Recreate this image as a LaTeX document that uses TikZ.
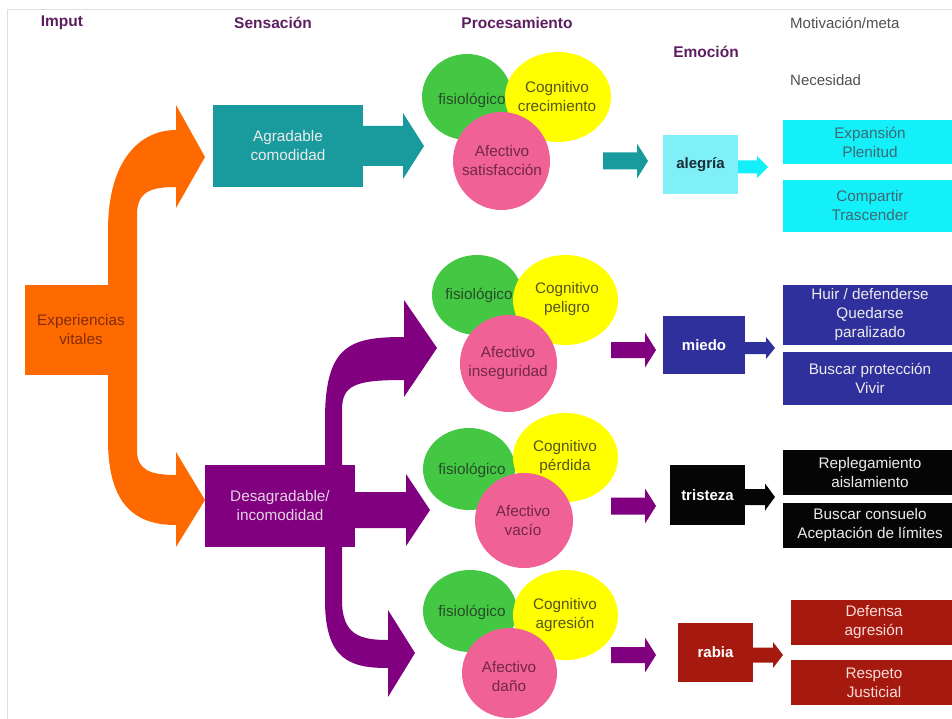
\documentclass[tikz,border=0pt]{standalone}
\usepackage{fontspec}
\setmainfont{Liberation Sans}
\usepackage{tikz}
\usepackage{xcolor}
\definecolor{hdrpurple}{RGB}{92,30,96}
\definecolor{subgray}{RGB}{80,80,80}
\definecolor{framegray}{RGB}{222,222,222}
\definecolor{orng}{RGB}{255,106,0}
\definecolor{exptext}{RGB}{130,45,15}
\definecolor{tealc}{RGB}{25,155,158}
\definecolor{purp}{RGB}{128,0,128}
\definecolor{grn}{RGB}{68,200,68}
\definecolor{yel}{RGB}{255,255,0}
\definecolor{pnk}{RGB}{240,98,150}
\definecolor{alecol}{RGB}{128,240,248}
\definecolor{cyn}{RGB}{20,240,250}
\definecolor{blu}{RGB}{48,48,156}
\definecolor{drk}{RGB}{5,5,5}
\definecolor{dred}{RGB}{165,25,15}
\definecolor{grntext}{RGB}{40,75,40}
\definecolor{yeltext}{RGB}{85,85,30}
\definecolor{pnktext}{RGB}{115,40,65}
\definecolor{cyntext}{RGB}{60,105,115}
\definecolor{aletext}{RGB}{25,45,55}
\definecolor{lighttext}{RGB}{235,235,235}
\definecolor{purptext}{RGB}{230,210,230}
\definecolor{redtext}{RGB}{248,220,215}

% straight block arrow: colour, x start, x head base, x tip, y centre, half shaft, half head
\newcommand{\blockarrow}[7]{%
  \fill[#1] (#2,#5-#6) -- (#3,#5-#6) -- (#3,#5-#7) -- (#4,#5)
    -- (#3,#5+#7) -- (#3,#5+#6) -- (#2,#5+#6) -- cycle;}

\tikzset{
  hdr/.style={font=\fontsize{15.5}{18}\selectfont\bfseries, text=hdrpurple},
  subhdr/.style={font=\fontsize{15}{18}\selectfont, text=subgray, inner sep=0pt, anchor=west},
  txt/.style={font=\fontsize{15.3}{19}\selectfont, align=center, inner sep=0pt},
  sensbox/.style={txt},
  emobox/.style={font=\fontsize{15}{18}\selectfont\bfseries, inner sep=0pt},
  needbox/.style={txt, minimum width=174pt},
}

\begin{document}
\begin{tikzpicture}[x=1pt, y=-1pt]
    \useasboundingbox (0,0) rectangle (952,719);

    % Frame
    \draw[framegray, line width=0.8pt] (7,719) -- (7,9) -- (952,9);

    % Headers
    \node[hdr] (hin) at (62,23) {Imput};
    \node[hdr] (hsen) at (273,23) {Sensación};
    \node[hdr] (hpro) at (517,23) {Procesamiento};
    \node[hdr] (hemo) at (706,52) {Emoción};
    \node[subhdr] (hmot) at (790,23) {Motivación/meta};
    \node[subhdr] (hnec) at (790,80) {Necesidad};

    % Input (orange bent arrows)
    \fill[orng] (176,130) .. controls (140,130) and (108,160) .. (108,230)
        -- (108,440) .. controls (108,510) and (140,525) .. (176,525)
        -- (176,547) -- (205,500) -- (176,452) -- (176,475)
        .. controls (150,475) and (137,470) .. (137,450)
        -- (137,215) .. controls (137,192) and (150,187) .. (176,187)
        -- (176,208) -- (205,157) -- (176,105) -- cycle;
    \node[sensbox, fill=orng, text=exptext, minimum width=112pt, minimum height=90pt] (exp) at (81,330) {Experiencias\\vitales};

    % Sensation
    \node[sensbox, fill=tealc, text=lighttext, minimum width=150pt, minimum height=82pt] (agr) at (288,146) {Agradable\\comodidad};
    \blockarrow{tealc}{363}{403}{424}{146}{20}{33}

    \fill[purp] (404,337) .. controls (350,337) and (325,345) .. (325,420)
        -- (325,600) .. controls (325,660) and (350,668) .. (388,668)
        -- (388,697) -- (415,653) -- (388,610) -- (388,640)
        .. controls (360,640) and (342,635) .. (342,600)
        -- (342,410) .. controls (342,385) and (355,380) .. (404,380)
        -- (404,397) -- (437,348) -- (404,300) -- cycle;
    \node[sensbox, fill=purp, text=purptext, minimum width=150pt, minimum height=82pt] (des) at (280,506) {Desagradable/\\incomodidad};
    \blockarrow{purp}{355}{406}{430}{510}{18}{36}

    % Processing: alegria
    \fill[grn] (467,97) ellipse (45pt and 43pt);
    \fill[yel] (558,97) ellipse (53pt and 45pt);
    \fill[pnk] (501.5,161) ellipse (48.5pt and 49pt);
    \node[txt, text=grntext] (fis1) at (472,100) {fisiológico};
    \node[txt, text=yeltext] (cog1) at (557,96.5) {Cognitivo\\crecimiento};
    \node[txt, text=pnktext] (afe1) at (502,160.5) {Afectivo\\satisfacción};

    % Processing: miedo
    \fill[grn] (477,295) ellipse (45pt and 40pt);
    \fill[yel] (565.5,300) ellipse (52.5pt and 45pt);
    \fill[pnk] (508.5,363.5) ellipse (48.5pt and 48.5pt);
    \node[txt, text=grntext] (fis2) at (479,295) {fisiológico};
    \node[txt, text=yeltext] (cog2) at (567,299.5) {Cognitivo\\peligro};
    \node[txt, text=pnktext] (afe2) at (508,363.5) {Afectivo\\inseguridad};

    % Processing: tristeza
    \fill[grn] (469,469) ellipse (46pt and 41pt);
    \fill[yel] (565.5,457.5) ellipse (52.5pt and 44.5pt);
    \fill[pnk] (524,520.5) ellipse (49pt and 47.5pt);
    \node[txt, text=grntext] (fis3) at (472,470) {fisiológico};
    \node[txt, text=yeltext] (cog3) at (565,457.5) {Cognitivo\\pérdida};
    \node[txt, text=pnktext] (afe3) at (523,521) {Afectivo\\vacío};

    % Processing: rabia
    \fill[grn] (470,611) ellipse (47pt and 41pt);
    \fill[yel] (565.5,615) ellipse (52.5pt and 45pt);
    \fill[pnk] (509.5,673) ellipse (47.5pt and 45pt);
    \node[txt, text=grntext] (fis4) at (472,612) {fisiológico};
    \node[txt, text=yeltext] (cog4) at (565,615.5) {Cognitivo\\agresión};
    \node[txt, text=pnktext] (afe4) at (509,677) {Afectivo\\daño};

    % Emotions
    \blockarrow{tealc}{603}{637}{648}{161}{8.5}{17.5}
    \node[emobox, fill=alecol, text=aletext, minimum width=75pt, minimum height=59pt] (ale) at (700.5,164.5) {alegría};
    \blockarrow{purp}{611}{645}{656}{350}{8}{17.5}
    \node[emobox, fill=blu, text=white, minimum width=82pt, minimum height=58pt] (mie) at (704,345) {miedo};
    \blockarrow{purp}{611}{645}{656}{506}{8.5}{17.5}
    \node[emobox, fill=drk, text=white, minimum width=75pt, minimum height=60pt] (tri) at (707.5,495) {tristeza};
    \blockarrow{purp}{611}{645}{656}{655}{8}{17.5}
    \node[emobox, fill=dred, text=white, minimum width=75pt, minimum height=59pt] (rab) at (715.5,652.5) {rabia};

    % Needs
    \blockarrow{cyn}{738}{757}{768}{167}{6.5}{11}
    \node[needbox, fill=cyn, text=cyntext, minimum height=44pt] (exn) at (870,142) {Expansión\\Plenitud};
    \node[needbox, fill=cyn, text=cyntext, minimum height=52pt] (com) at (870,206) {Compartir\\Trascender};

    \blockarrow{blu}{745}{766}{775}{348}{6}{11}
    \node[needbox, fill=blu, text=lighttext, minimum height=60pt] (hui) at (870,315) {Huir / defenderse\\Quedarse\\paralizado};
    \node[needbox, fill=blu, text=lighttext, minimum height=53pt] (bpr) at (870,378.5) {Buscar protección\\Vivir};

    \blockarrow{drk}{745}{765}{775}{497}{8}{13.5}
    \node[needbox, fill=drk, text=lighttext, minimum height=45pt] (rep) at (870,472.5) {Replegamiento\\aislamiento};
    \node[needbox, fill=drk, text=lighttext, minimum height=45pt] (bco) at (870,525.5) {Buscar consuelo\\Aceptación de límites};

    \blockarrow{dred}{753}{773}{783}{655}{7.5}{13}
    \node[needbox, fill=dred, text=redtext, minimum width=166pt, minimum height=45pt] (def) at (874,622.5) {Defensa\\agresión};
    \node[needbox, fill=dred, text=redtext, minimum width=166pt, minimum height=45pt] (res) at (874,682.5) {Respeto\\Justicial};
\end{tikzpicture}
\end{document}
